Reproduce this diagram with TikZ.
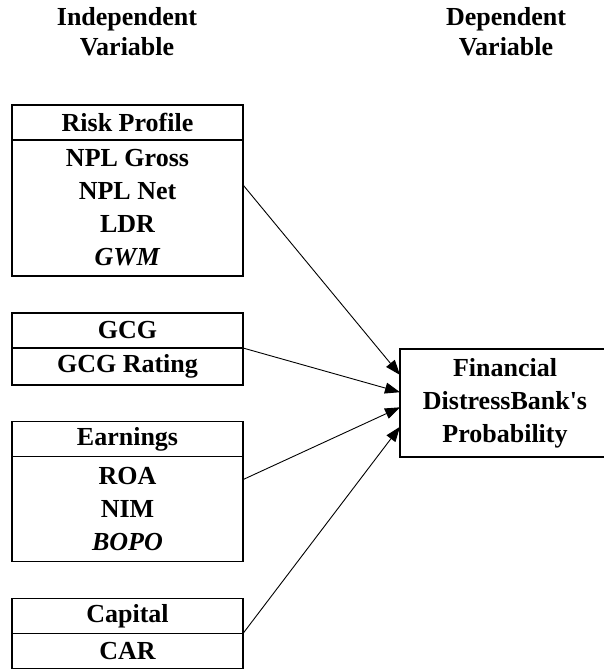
\documentclass[tikz,border=0pt]{standalone}
\usepackage{fontspec}
\setmainfont{Liberation Serif}[Ligatures=TeXOff]
\usetikzlibrary{arrows.meta, positioning, calc}

\begin{document}
\begin{tikzpicture}[x=1pt, y=-1pt, >={Triangle[length=15pt,width=11pt]},
    varbox/.style={draw, line width=1.2pt, inner sep=0pt, outer sep=0pt,
        minimum width=231pt, align=center,
        font=\fontsize{26}{33}\selectfont\bfseries},
    headbox/.style={varbox, minimum height=35pt},
    title/.style={align=center, font=\fontsize{26}{30}\selectfont\bfseries},
    link/.style={->, line width=0.9pt}]

    \useasboundingbox (0,0) rectangle (603,671);

    % --- COLUMN TITLES ---
    \node[title] (indep) at (127,32) {Independent\\Variable};
    \node[title] (dep) at (506,32) {Dependent\\Variable};

    % --- INDEPENDENT VARIABLES ---
    \node[headbox] (risk) at (127.5,122.5) {Risk Profile};
    \node[varbox, minimum height=136pt, below=0pt of risk] (riskbody)
        {NPL Gross\\NPL Net\\LDR\\\textit{GWM}};

    \node[headbox] (gcg) at (127.5,330.5) {GCG};
    \node[varbox, minimum height=37pt, below=0pt of gcg] (gcgbody) {GCG Rating};

    \node[headbox] (earn) at (127.5,439) {Earnings};
    \node[varbox, minimum height=105pt, below=0pt of earn] (earnbody)
        {ROA\\NIM\\\textit{BOPO}};

    \node[headbox] (capital) at (127.5,616) {Capital};
    \node[varbox, minimum height=35pt, below=0pt of capital] (capbody) {CAR};

    % --- DEPENDENT VARIABLE ---
    \node[varbox, minimum width=210pt, minimum height=108pt] (target) at (505,403)
        {Financial\\DistressBank's\\Probability};

    % --- LINKS ---
    \draw[link] ($(riskbody.north east)!0.33!(riskbody.south east)$)
        -- ($(target.north west)!0.24!(target.south west)$);
    \draw[link] (gcg.south east)
        -- ($(target.north west)!0.40!(target.south west)$);
    \draw[link] ($(earnbody.north east)!0.22!(earnbody.south east)$)
        -- ($(target.north west)!0.54!(target.south west)$);
    \draw[link] (capital.south east)
        -- ($(target.north west)!0.72!(target.south west)$);
\end{tikzpicture}
\end{document}
